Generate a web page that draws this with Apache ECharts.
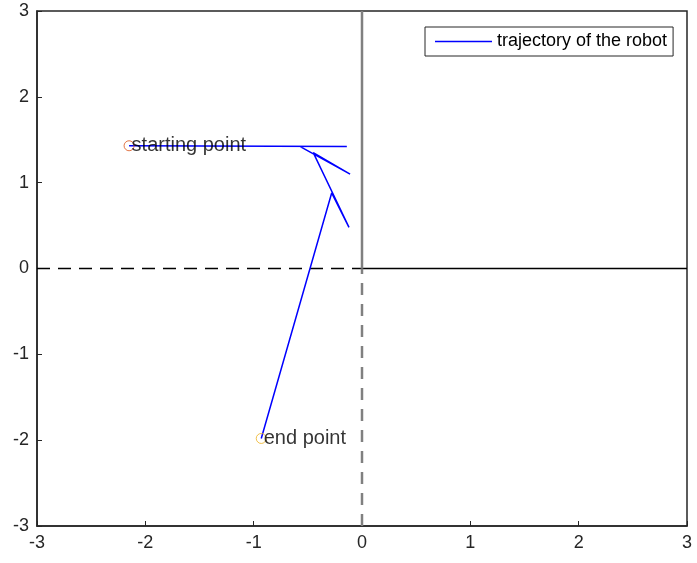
<!DOCTYPE html>
<html>
<head>
<meta charset="utf-8">
<script src="https://cdn.jsdelivr.net/npm/echarts@6/dist/echarts.min.js"></script>
<style>html,body{margin:0;padding:0;background:#fff}#c{width:697px;height:563px}</style>
</head>
<body>
<div id="c"></div>
<script>
// Trajectory of the robot (polyline, in order)
const trajX = [-2.15, -0.14, -0.57, -0.11, -0.45, -0.12, -0.28, -0.93];
const trajY = [1.43, 1.42, 1.42, 1.10, 1.35, 0.48, 0.88, -1.98];
// Start / end points
const startPoint = [-2.15, 1.43];
const endPoint = [-0.93, -1.98];
// Reference axes lines
const hDashX = [-3, 0], hSolidX = [0, 3];
const vSolidY = [0, 3], vDashY = [-3, 0];
// Axis ticks
const axisMin = -3, axisMax = 3, axisStep = 1;

const font = 'Liberation Sans, Arial, sans-serif';
const traj = trajX.map((x, i) => [x, trajY[i]]);

const chart = echarts.init(document.getElementById('c'));
chart.setOption({
  animation: false,
  backgroundColor: '#fff',
  grid: { left: 37, right: 10, top: 11, bottom: 37, show: true, borderColor: '#262626', borderWidth: 1.5, backgroundColor: 'transparent' },
  xAxis: {
    type: 'value', min: axisMin, max: axisMax, interval: axisStep,
    axisLine: { show: true, onZero: false, lineStyle: { color: '#262626', width: 1.5 } },
    axisTick: { show: true, inside: true, length: 5, lineStyle: { color: '#262626' } },
    axisLabel: { color: '#262626', fontSize: 18, fontFamily: font, margin: 8 },
    splitLine: { show: false }
  },
  yAxis: {
    type: 'value', min: axisMin, max: axisMax, interval: axisStep,
    axisLine: { show: true, onZero: false, lineStyle: { color: '#262626', width: 1.5 } },
    axisTick: { show: true, inside: true, length: 5, lineStyle: { color: '#262626' } },
    axisLabel: { color: '#262626', fontSize: 18, fontFamily: font, margin: 8 },
    splitLine: { show: false }
  },
  legend: {
    data: [{ name: 'trajectory of the robot', icon: 'rect' }],
    left: 425, top: 27,
    padding: [5, 6, 5, 10],
    itemWidth: 57, itemHeight: 1.5,
    backgroundColor: '#fff',
    borderColor: '#262626', borderWidth: 1,
    itemStyle: { color: '#0000ff' },
    textStyle: { fontSize: 18, fontFamily: font, color: '#000', lineHeight: 19 }
  },
  series: [
    { type: 'line', silent: true, symbol: 'none', data: hDashX.map(x => [x, 0]),
      lineStyle: { color: '#000', width: 1.5, type: [13, 8] }, z: 1 },
    { type: 'line', silent: true, symbol: 'none', data: hSolidX.map(x => [x, 0]),
      lineStyle: { color: '#000', width: 1.5 }, z: 1 },
    { type: 'line', silent: true, symbol: 'none', data: vSolidY.map(y => [0, y]),
      lineStyle: { color: '#808080', width: 2.5 }, z: 1 },
    { type: 'line', silent: true, symbol: 'none', data: vDashY.map(y => [0, y]),
      lineStyle: { color: '#808080', width: 2.5, type: [12, 9] }, z: 1 },
    { name: 'trajectory of the robot', type: 'line', symbol: 'none', data: traj,
      lineStyle: { color: '#0000ff', width: 1.5 }, itemStyle: { color: '#0000ff' }, z: 3 },
    { type: 'scatter', data: [startPoint], symbol: 'circle', symbolSize: 10,
      itemStyle: { color: 'transparent', borderColor: '#D95319', borderWidth: 1 },
      label: { show: true, formatter: 'starting point', position: 'right', distance: -3,
        fontSize: 20, fontFamily: font, color: '#000' }, z: 4 },
    { type: 'scatter', data: [endPoint], symbol: 'circle', symbolSize: 10,
      itemStyle: { color: 'transparent', borderColor: '#EDB120', borderWidth: 1 },
      label: { show: true, formatter: 'end point', position: 'right', distance: -3,
        fontSize: 20, fontFamily: font, color: '#000' }, z: 4 }
  ]
});
</script>
</body>
</html>
